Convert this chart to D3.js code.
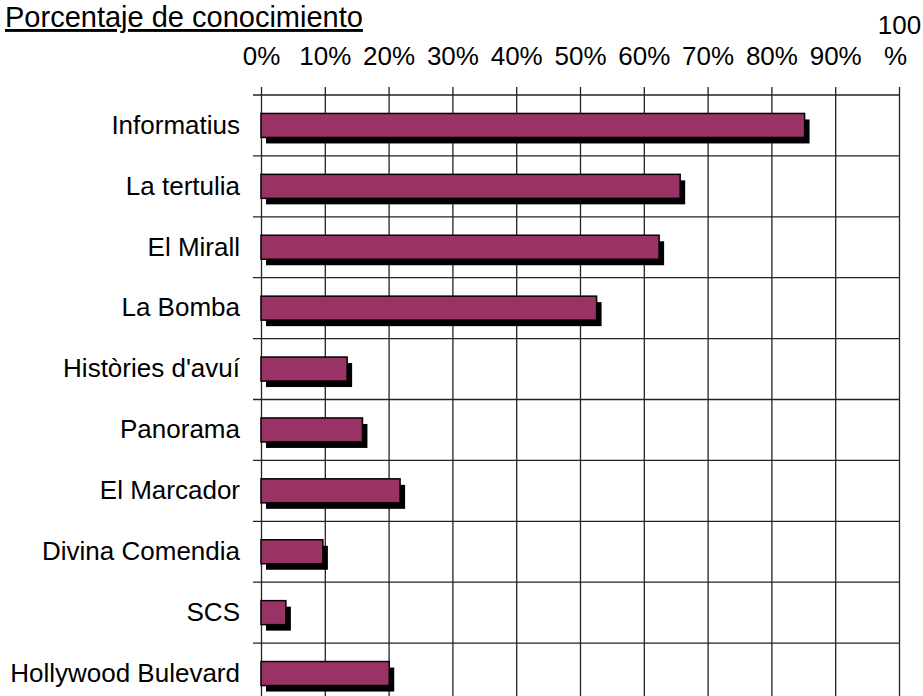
<!DOCTYPE html>
<html>
<head>
<meta charset="utf-8">
<script src="https://cdn.jsdelivr.net/npm/d3@7"></script>
<style>
  body { margin: 0; background: #fff; }
  svg { display: block; font-family: "Liberation Sans", Arial, sans-serif; }
</style>
</head>
<body>
<div id="chart"></div>
<script>
// Data
var categories = ["Informatius", "La tertulia", "El Mirall", "La Bomba", "Històries d'avuí",
    "Panorama", "El Marcador", "Divina Comendia", "SCS", "Hollywood Bulevard"];
var values = [0.852, 0.657, 0.624, 0.526, 0.135, 0.159, 0.218, 0.097, 0.039, 0.201];
var tickValues = [0, 0.1, 0.2, 0.3, 0.4, 0.5, 0.6, 0.7, 0.8, 0.9, 1];
var title = "Porcentaje de conocimiento";

var width = 923, height = 696;
var margin = {left: 261, right: 24, top: 95};
var rowH = 60.9;
var barH = 24;

var svg = d3.select("#chart").append("svg")
    .attr("width", width)
    .attr("height", height);

var x = d3.scaleLinear()
    .domain([0, 1])
    .range([margin.left, width - margin.right]);

var y = d3.scaleBand()
    .domain(categories)
    .range([margin.top, margin.top + rowH * categories.length])
    .padding(0);

var bottom = margin.top + rowH * categories.length;

// Title
svg.append("text")
    .attr("x", 5)
    .attr("y", 27)
    .style("font-size", "29px")
    .style("text-decoration", "underline")
    .text(title);

// Horizontal grid lines at the row boundaries (with little ticks on the left)
var bounds = d3.range(categories.length + 1);
svg.selectAll(".hgrid")
    .data(bounds)
    .enter().append("line")
    .attr("class", "hgrid")
    .attr("x1", margin.left - 8)
    .attr("x2", x(1))
    .attr("y1", function(d) { return margin.top + d * rowH; })
    .attr("y2", function(d) { return margin.top + d * rowH; })
    .attr("stroke", "#222")
    .attr("stroke-width", 1.3);

// Top axis, its ticks run down as vertical grid lines
var xAxis = d3.axisTop(x)
    .tickValues(tickValues)
    .tickSize(-(bottom - 87))
    .tickPadding(22)
    .tickFormat(function(d) { return Math.round(d * 100) + "%"; });

var gx = svg.append("g")
    .attr("transform", "translate(0,87)")
    .call(xAxis);

gx.select(".domain").remove();
gx.selectAll(".tick line")
    .attr("stroke", "#222")
    .attr("stroke-width", 1.3);
gx.selectAll(".tick text")
    .style("font-size", "26px")
    .style("font-family", "Liberation Sans, Arial, sans-serif")
    .attr("fill", "#000");

// the 100% label wraps onto two lines
gx.selectAll(".tick text")
    .filter(function(d) { return d === 1; })
    .text(null)
    .each(function() {
        var t = d3.select(this);
        t.append("tspan").attr("x", 0).attr("dy", "-1.2em").text("100");
        t.append("tspan").attr("x", -4).attr("dy", "1.2em").text("%");
    });

// Category labels
var yAxis = d3.axisLeft(y)
    .tickSize(0)
    .tickPadding(21);

var gy = svg.append("g")
    .attr("transform", "translate(" + margin.left + ",0)")
    .call(yAxis);

gy.select(".domain").remove();
gy.selectAll(".tick text")
    .style("font-size", "26px")
    .style("font-family", "Liberation Sans, Arial, sans-serif")
    .attr("fill", "#000");

// Bars: shadow first, then the plum bar
var bars = svg.selectAll(".bar")
    .data(categories)
    .enter().append("g")
    .attr("class", "bar");

bars.append("rect")
    .attr("x", x(0) + 5)
    .attr("y", function(d) { return y(d) + (y.bandwidth() - barH) / 2 + 6; })
    .attr("width", function(d, i) { return x(values[i]) - x(0); })
    .attr("height", barH)
    .attr("fill", "#000");

bars.append("rect")
    .attr("x", x(0))
    .attr("y", function(d) { return y(d) + (y.bandwidth() - barH) / 2; })
    .attr("width", function(d, i) { return x(values[i]) - x(0); })
    .attr("height", barH)
    .attr("fill", "#993366")
    .attr("stroke", "#000")
    .attr("stroke-width", 1.5);
</script>
</body>
</html>
